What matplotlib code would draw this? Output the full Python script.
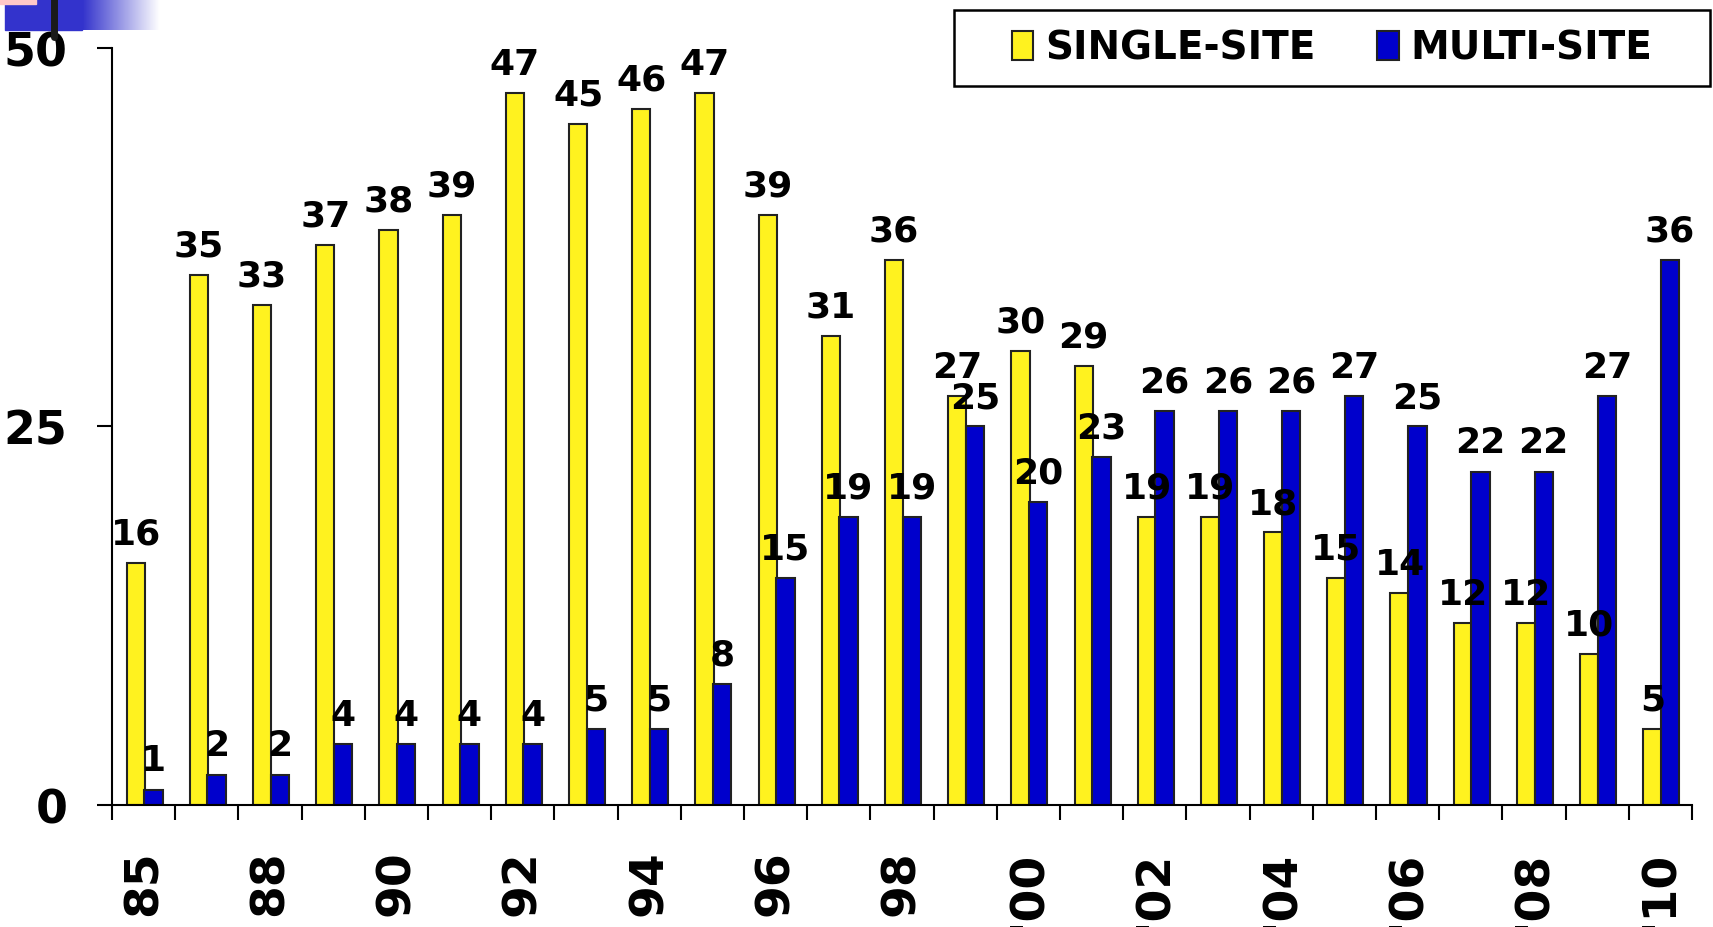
import numpy as np
import matplotlib
matplotlib.use("Agg")
import matplotlib.pyplot as plt
from matplotlib.patches import Rectangle

# yearly counts, 25 groups, every other one labelled
years = ["85", "", "88", "", "90", "", "92", "", "94", "", "96", "", "98", "",
         "'00", "", "'02", "", "'04", "", "'06", "", "'08", "", "'10"]
single_site = [16, 35, 33, 37, 38, 39, 47, 45, 46, 47, 39, 31, 36, 27, 30, 29,
               19, 19, 18, 15, 14, 12, 12, 10, 5]
multi_site = [1, 2, 2, 4, 4, 4, 4, 5, 5, 8, 15, 19, 19, 25, 20, 23,
              26, 26, 26, 27, 25, 22, 22, 27, 36]

yellow = "#fff21f"
blue = "#0000cc"

fig = plt.figure(figsize=(17.13, 9.28), dpi=100)
ax = fig.add_axes([0.0654, 0.1315, 0.9223, 0.8157])

x = np.arange(len(years))
w = 0.29
b1 = ax.bar(x - 0.27 + w / 2, single_site, w, color=yellow, edgecolor="#222222",
            linewidth=1.5, label="SINGLE-SITE")
b2 = ax.bar(x + 0.01 + w / 2, multi_site, w, color=blue, edgecolor="#222222",
            linewidth=1.5, label="MULTI-SITE")

for bars, vals in ((b1, single_site), (b2, multi_site)):
    for r, v in zip(bars, vals):
        ax.annotate(str(v), (r.get_x() + r.get_width() / 2, v), xytext=(0, 14),
                    textcoords="offset points", ha="center", va="baseline",
                    fontsize=26, fontweight="bold")

ax.set_xlim(-0.5, len(years) - 0.5)
ax.set_ylim(0, 50)
ax.set_yticks([0, 25, 50])
ax.set_yticklabels(["0", "25", "50"], fontsize=33, fontweight="bold")
ax.tick_params(axis="y", length=11, width=1.5, pad=21)

ax.set_xticks(np.arange(-0.5, len(years), 1.0))
ax.set_xticklabels([])
ax.tick_params(axis="x", which="major", length=11, width=1.5)
ax.set_xticks(x, minor=True)
ax.set_xticklabels(years, minor=True, rotation=90, fontsize=34, fontweight="bold")
ax.tick_params(axis="x", which="minor", length=0, pad=32)

for s in ("top", "right"):
    ax.spines[s].set_visible(False)
for s in ("left", "bottom"):
    ax.spines[s].set_linewidth(1.5)

# legend box drawn separately, legend centred in it
fig.patches.append(Rectangle((954 / 1713, 1 - 87 / 928), 756 / 1713, 76 / 928,
                             transform=fig.transFigure, facecolor="white",
                             edgecolor="black", linewidth=1.8, zorder=2))
leg = fig.legend(handles=[b1, b2], loc="center",
                 bbox_to_anchor=(1332 / 1713, 1 - 49 / 928), ncol=2,
                 prop={"weight": "bold", "size": 28}, frameon=False,
                 handlelength=0.55, handleheight=0.8,
                 handletextpad=0.3, columnspacing=1.6, borderaxespad=0)
leg.set_zorder(3)

# slide decoration in the top-left corner
fig.patches.append(Rectangle((5 / 1713, 1 - 31 / 928), 77 / 1713, 31 / 928,
                             transform=fig.transFigure, color="#3333cc", zorder=0))
grad = fig.add_axes([82 / 1713, 1 - 31 / 928, 78 / 1713, 31 / 928], zorder=0)
grad.imshow(np.linspace(0, 1, 100)[None, :], aspect="auto",
            cmap=matplotlib.colors.LinearSegmentedColormap.from_list("g", ["#3333cc", "#ffffff"]))
grad.axis("off")
fig.patches.append(Rectangle((0, 1 - 5 / 928), 36 / 1713, 5 / 928,
                             transform=fig.transFigure, color="#ffc8c8", zorder=1))
fig.lines.append(plt.Line2D([54 / 1713, 54 / 1713], [1, 1 - 38 / 928],
                            transform=fig.transFigure, color="#1a1a1a", linewidth=5,
                            solid_capstyle="round"))

fig.savefig("out.png", dpi=100)
